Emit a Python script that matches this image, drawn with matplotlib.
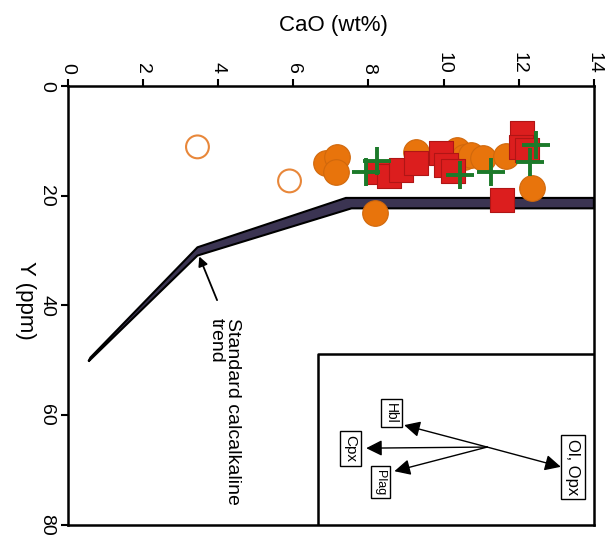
import matplotlib
matplotlib.use("Agg")
import matplotlib.pyplot as plt
from matplotlib.patches import Polygon

plt.rcParams['font.family'] = ['Liberation Sans', 'DejaVu Sans']

# ---- data ----
orange_cao = [6.88, 7.17, 7.15, 9.27, 10.36, 10.55, 10.73, 11.05, 11.66, 12.35, 8.18]
orange_y = [14.0, 12.9, 15.7, 12.0, 11.7, 12.9, 12.6, 13.1, 12.8, 18.6, 23.1]

red_cao = [8.29, 8.55, 8.87, 9.27, 9.94, 10.07, 10.26, 11.56, 12.09, 12.06, 12.22]
red_y = [15.7, 16.4, 15.3, 14.0, 12.2, 14.4, 15.5, 20.8, 8.6, 11.1, 11.7]

green_cao = [7.94, 8.24, 10.44, 11.26, 12.30, 12.46]
green_y = [15.7, 13.7, 16.2, 15.7, 13.8, 10.8]

open_cao = [3.45, 5.90]
open_y = [11.1, 17.3]

trend_upper_cao = [0.6, 3.45, 7.4, 14.0]
trend_upper_y = [49.5, 29.4, 20.4, 20.4]
trend_lower_cao = [14.0, 7.55, 3.45, 0.55]
trend_lower_y = [22.3, 22.3, 30.9, 50.2]

xticks = [0, 2, 4, 6, 8, 10, 12, 14]
yticks = [0, 20, 40, 60, 80]

# ---- figure ----
fig = plt.figure(figsize=(6.11, 5.39), dpi=100)
ax = fig.add_axes([0.111, 0.026, 0.861, 0.8145])
ax.set_xlim(0, 14)
ax.set_ylim(80, 0)

poly_pts = list(zip(trend_upper_cao + trend_lower_cao, trend_upper_y + trend_lower_y))
ax.add_patch(Polygon(poly_pts, closed=True, facecolor='#3b3452', edgecolor='black',
                     lw=1.5, zorder=2))

ax.scatter(open_cao, open_y, s=270, facecolor='none', edgecolor='#e8873a', lw=1.5, zorder=3)
ax.scatter(orange_cao, orange_y, s=340, facecolor='#e8740c', edgecolor='#d0680c', lw=0.8, zorder=3)
ax.scatter(red_cao, red_y, s=300, marker='s', facecolor='#dc1e1e', edgecolor='#b01515', lw=0.8, zorder=4)
ax.scatter(green_cao, green_y, s=430, marker='+', color='#1c7a2a', lw=2.8, zorder=5)

# annotation for trend
ax.annotate('', xy=(3.47, 30.6), xytext=(4.0, 39.5),
            arrowprops=dict(arrowstyle='-|>', color='black', lw=1.3, mutation_scale=14))
ax.text(4.62, 42.3, 'Standard calcalkaline\ntrend', rotation=-90, fontsize=14,
        ha='left', va='top', rotation_mode='anchor', multialignment='left',
        linespacing=1.0)

# inset box
ax.plot([6.65, 6.65, 14], [80, 48.8, 48.8], color='black', lw=1.8, zorder=6)

center = (11.16, 65.8)
for tip in [(8.95, 61.8), (7.94, 66.0), (8.69, 70.2), (13.12, 69.4)]:
    ax.annotate('', xy=tip, xytext=center,
                arrowprops=dict(arrowstyle='-|>', color='black', lw=1.0,
                                mutation_scale=24, shrinkA=0, shrinkB=0))

box = dict(boxstyle='square,pad=0.25', facecolor='white', edgecolor='black', lw=1.0)
ax.text(8.61, 59.6, 'Hbl', rotation=-90, fontsize=10, ha='center', va='center', bbox=box)
ax.text(7.52, 66.1, 'Cpx', rotation=-90, fontsize=11, ha='center', va='center', bbox=box)
ax.text(8.32, 72.2, 'Plag', rotation=-90, fontsize=9, ha='center', va='center', bbox=box)
ax.text(13.44, 69.4, 'Ol, Opx', rotation=-90, fontsize=12, ha='center', va='center', bbox=box)

# axes styling
ax.xaxis.tick_top()
ax.set_xticks(xticks)
ax.set_xticklabels([str(t) for t in xticks], rotation=-90, fontsize=14)
ax.set_yticks(yticks)
ax.set_yticklabels([str(t) for t in yticks], rotation=-90, fontsize=14, va='center')
ax.tick_params(axis='x', direction='out', length=5, width=1.5, pad=4)
ax.tick_params(axis='y', direction='out', length=5, width=1.5, pad=4)
for sp in ax.spines.values():
    sp.set_linewidth(1.8)

fig.text(333/611, 1 - 25/539, 'CaO (wt%)', fontsize=16, ha='center', va='center')
fig.text(25/611, 1 - 300/539, 'Y (ppm)', fontsize=16, ha='center', va='center', rotation=-90)

fig.savefig('out.png', dpi=100)
